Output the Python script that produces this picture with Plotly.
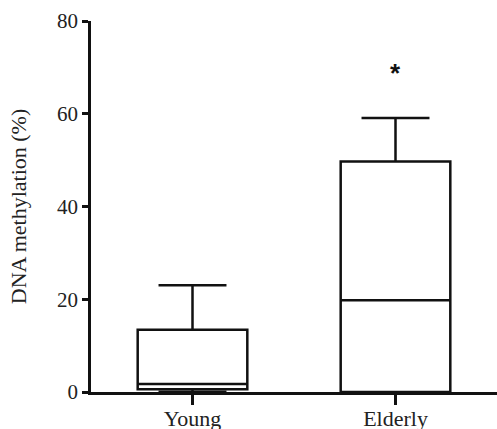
import plotly.graph_objects as go

categories = ["Young", "Elderly"]
lower = [0.0, 0.0]
q1 = [0.6, 0.0]
median = [1.7, 19.8]
q3 = [13.4, 49.7]
upper = [23.0, 59.1]
y_ticks = [0, 20, 40, 60, 80]
star_y = 68.8

fig = go.Figure()
fig.add_trace(go.Box(
    x=categories, q1=q1, median=median, q3=q3,
    lowerfence=lower, upperfence=upper,
    width=0.54, whiskerwidth=0.62,
    line=dict(color="#111", width=2.5), fillcolor="white",
    boxpoints=False, showlegend=False, hoverinfo="skip",
))

fig.add_annotation(x="Elderly", y=star_y, text="<b>*</b>", showarrow=False,
                   font=dict(family="Liberation Sans", size=26, color="#111"),
                   yanchor="middle")

serif = "Liberation Serif"
fig.update_layout(
    width=497, height=429,
    margin=dict(l=91, r=0, t=21, b=37, autoexpand=False),
    plot_bgcolor="white", paper_bgcolor="white",
    xaxis=dict(range=[-0.5, 1.5], showline=True, linecolor="#111", linewidth=2.5,
               ticks="outside", ticklen=10, tickwidth=2.5, tickcolor="#111",
               showgrid=False, zeroline=False, automargin=False,
               ticklabelstandoff=-5,
               tickfont=dict(family=serif, size=22, color="#222")),
    yaxis=dict(range=[0, 80], tickvals=y_ticks, showline=True, linecolor="#111",
               linewidth=2.5, ticks="outside", ticklen=6, tickwidth=2.5, tickcolor="#111",
               showgrid=False, zeroline=False, automargin=False,
               tickfont=dict(family=serif, size=21, color="#222"),
               title=dict(text="DNA methylation (%)", standoff=25,
                          font=dict(family=serif, size=22, color="#222"))),
)

fig.write_html("out.html", config={"displayModeBar": False},
               post_script="document.body.style.margin='0';document.body.style.overflow='hidden';")
